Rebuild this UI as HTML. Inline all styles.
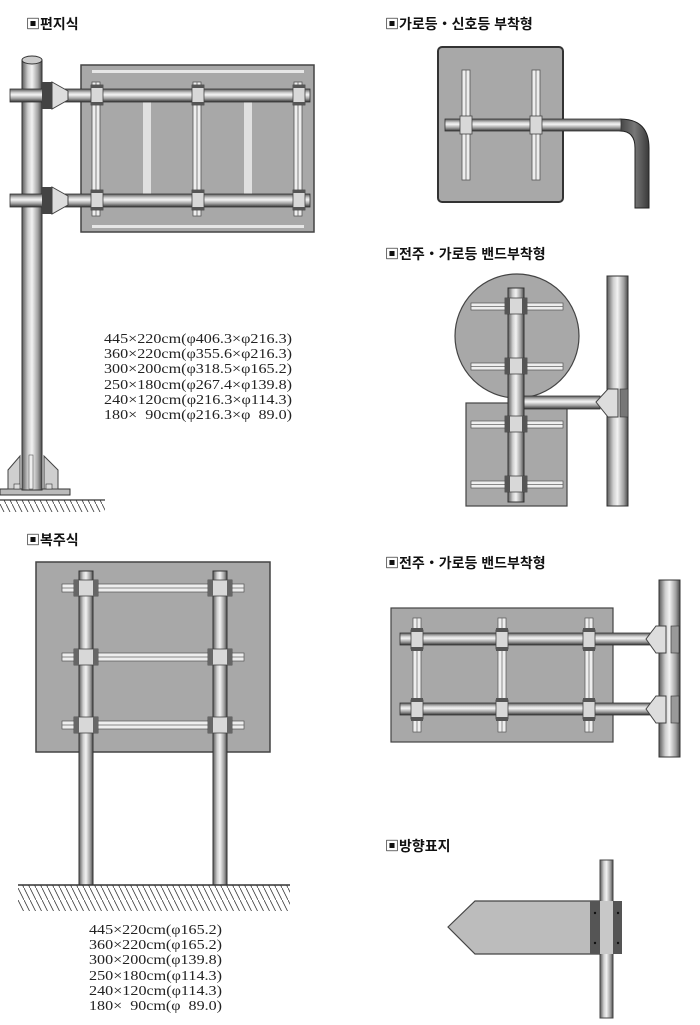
<!DOCTYPE html>
<html><head><meta charset="utf-8">
<style>
html,body{margin:0;padding:0;background:#fff;}
svg{display:block;}
.t{font-family:"Liberation Sans","Noto Sans CJK KR",sans-serif;font-weight:bold;font-size:14px;fill:#111;}
.s{font-family:"Liberation Serif","Noto Serif CJK SC",serif;font-size:13.5px;fill:#222;}
</style></head><body>
<svg width="700" height="1025" viewBox="0 0 700 1025" xmlns="http://www.w3.org/2000/svg">
<defs>
<linearGradient id="pv" x1="0" y1="0" x2="1" y2="0">
<stop offset="0" stop-color="#5a5a5a"/><stop offset="0.3" stop-color="#cfcfcf"/><stop offset="0.5" stop-color="#f2f2f2"/><stop offset="0.8" stop-color="#a0a0a0"/><stop offset="1" stop-color="#4a4a4a"/>
</linearGradient>
<linearGradient id="ph" x1="0" y1="0" x2="0" y2="1">
<stop offset="0" stop-color="#5a5a5a"/><stop offset="0.3" stop-color="#d5d5d5"/><stop offset="0.45" stop-color="#f4f4f4"/><stop offset="0.75" stop-color="#9a9a9a"/><stop offset="1" stop-color="#333"/>
</linearGradient>
<linearGradient id="pd" x1="0" y1="0" x2="1" y2="0">
<stop offset="0" stop-color="#444"/><stop offset="0.5" stop-color="#777"/><stop offset="1" stop-color="#3a3a3a"/>
</linearGradient>
<pattern id="hatch" width="6" height="12" patternUnits="userSpaceOnUse">
<line x1="0" y1="0" x2="6" y2="12" stroke="#333" stroke-width="0.8"/>
</pattern>
</defs>

<!-- Titles -->
<text class="t" x="26" y="29">▣편지식</text>
<text class="t" x="385" y="29">▣가로등・신호등 부착형</text>
<text class="t" x="385" y="259">▣전주・가로등 밴드부착형</text>
<text class="t" x="26" y="545">▣복주식</text>
<text class="t" x="385" y="568">▣전주・가로등 밴드부착형</text>
<text class="t" x="385" y="851">▣방향표지</text>

<!-- ===== 편지식 ===== -->
<rect x="81" y="65" width="233" height="167" fill="#a8a8a8" stroke="#444" stroke-width="1.5"/>
<rect x="92" y="70" width="212" height="3" fill="#e6e6e6"/>
<rect x="92" y="225" width="212" height="3" fill="#e6e6e6"/>
<rect x="143" y="100" width="8" height="95" fill="#e0e0e0"/>
<rect x="244" y="100" width="8" height="95" fill="#e0e0e0"/>
<g fill="#eee" stroke="#555" stroke-width="0.8">
<rect x="92" y="82" width="8" height="134"/><rect x="193" y="82" width="8" height="134"/><rect x="294" y="82" width="8" height="134"/>
</g>
<g stroke="#666" stroke-width="0.8"><line x1="96" y1="82" x2="96" y2="216"/><line x1="197" y1="82" x2="197" y2="216"/><line x1="298" y1="82" x2="298" y2="216"/></g>
<rect x="0" y="500" width="105" height="12" fill="url(#hatch)"/>
<line x1="0" y1="500" x2="105" y2="500" stroke="#333" stroke-width="1.2"/>
<rect x="0" y="489" width="70" height="6" fill="#bbb" stroke="#333"/>
<rect x="22" y="60" width="20" height="430" fill="url(#pv)" stroke="#333" stroke-width="1"/>
<ellipse cx="32" cy="60" rx="10" ry="4" fill="#ccc" stroke="#333"/>
<polygon points="8,470 20,456 20,489 8,489" fill="#cfcfcf" stroke="#444"/>
<polygon points="44,456 58,470 58,489 44,489" fill="#cfcfcf" stroke="#444"/>
<rect x="29" y="455" width="4" height="34" fill="#eee" stroke="#555" stroke-width="0.6"/>
<rect x="14" y="484" width="6" height="5" fill="#ddd" stroke="#333" stroke-width="0.6"/>
<rect x="46" y="484" width="6" height="5" fill="#ddd" stroke="#333" stroke-width="0.6"/>
<g>
<rect x="10" y="89" width="300" height="13" fill="url(#ph)" stroke="#333" stroke-width="0.8"/>
<rect x="10" y="194" width="300" height="13" fill="url(#ph)" stroke="#333" stroke-width="0.8"/>
<rect x="42" y="82" width="10" height="27" fill="#444"/>
<rect x="42" y="187" width="10" height="27" fill="#444"/>
<polygon points="52,82 68,91 68,100 52,109" fill="#ddd" stroke="#444"/>
<polygon points="52,187 68,196 68,205 52,214" fill="#ddd" stroke="#444"/>
</g>
<g fill="#d8d8d8" stroke="#444" stroke-width="0.8">
<rect x="91" y="85" width="12" height="20"/><rect x="192" y="85" width="12" height="20"/><rect x="293" y="85" width="12" height="20"/>
<rect x="91" y="190" width="12" height="20"/><rect x="192" y="190" width="12" height="20"/><rect x="293" y="190" width="12" height="20"/>
</g>
<g fill="#555"><rect x="91" y="85" width="12" height="3"/><rect x="192" y="85" width="12" height="3"/><rect x="293" y="85" width="12" height="3"/>
<rect x="91" y="190" width="12" height="3"/><rect x="192" y="190" width="12" height="3"/><rect x="293" y="190" width="12" height="3"/>
<rect x="91" y="102" width="12" height="3"/><rect x="192" y="102" width="12" height="3"/><rect x="293" y="102" width="12" height="3"/>
<rect x="91" y="207" width="12" height="3"/><rect x="192" y="207" width="12" height="3"/><rect x="293" y="207" width="12" height="3"/></g>

<text class="s" x="104" y="343" textLength="188" lengthAdjust="spacingAndGlyphs">445×220cm(φ406.3×φ216.3)</text>
<text class="s" x="104" y="358" textLength="188" lengthAdjust="spacingAndGlyphs">360×220cm(φ355.6×φ216.3)</text>
<text class="s" x="104" y="373" textLength="188" lengthAdjust="spacingAndGlyphs">300×200cm(φ318.5×φ165.2)</text>
<text class="s" x="104" y="389" textLength="188" lengthAdjust="spacingAndGlyphs">250×180cm(φ267.4×φ139.8)</text>
<text class="s" x="104" y="404" textLength="188" lengthAdjust="spacingAndGlyphs">240×120cm(φ216.3×φ114.3)</text>
<text class="s" x="104" y="419" textLength="188" lengthAdjust="spacingAndGlyphs" xml:space="preserve">180×  90cm(φ216.3×φ  89.0)</text>

<!-- ===== 가로등 신호등 부착형 ===== -->
<rect x="438" y="47" width="125" height="155" rx="4" fill="#a8a8a8" stroke="#333" stroke-width="2"/>
<g fill="#eee" stroke="#555" stroke-width="0.8"><rect x="462" y="70" width="8" height="110"/><rect x="532" y="70" width="8" height="110"/></g>
<g stroke="#666" stroke-width="0.8"><line x1="466" y1="70" x2="466" y2="180"/><line x1="536" y1="70" x2="536" y2="180"/></g>
<path d="M620,119 Q649,119 649,148 L649,208 L635,208 L635,148 Q635,131 620,131 Z" fill="url(#pd)" stroke="#222"/>
<rect x="445" y="119" width="176" height="12" fill="url(#ph)" stroke="#333" stroke-width="0.8"/>
<g fill="#d8d8d8" stroke="#444" stroke-width="0.8"><rect x="460" y="116" width="12" height="18"/><rect x="530" y="116" width="12" height="18"/></g>

<!-- ===== 전주 가로등 밴드부착형 1 ===== -->
<rect x="466" y="403" width="101" height="103" fill="#a8a8a8" stroke="#444" stroke-width="1.2"/>
<circle cx="517" cy="336" r="62" fill="#a8a8a8" stroke="#444" stroke-width="1.2"/>
<g fill="#eee" stroke="#555" stroke-width="0.7">
<rect x="471" y="303" width="92" height="7"/><rect x="471" y="363" width="92" height="7"/><rect x="471" y="421" width="92" height="7"/><rect x="471" y="481" width="92" height="7"/>
</g>
<g stroke="#666" stroke-width="0.7"><line x1="471" y1="306.5" x2="563" y2="306.5"/><line x1="471" y1="366.5" x2="563" y2="366.5"/><line x1="471" y1="424.5" x2="563" y2="424.5"/><line x1="471" y1="484.5" x2="563" y2="484.5"/></g>
<rect x="607" y="276" width="21" height="230" fill="url(#pv)" stroke="#333"/>
<rect x="520" y="396" width="80" height="13" fill="url(#ph)" stroke="#333" stroke-width="0.8"/>
<polygon points="596,402 608,389 618,389 618,417 608,417" fill="#ddd" stroke="#444"/>
<rect x="620" y="389" width="8" height="28" fill="#777" stroke="#333" stroke-width="0.6"/>
<rect x="508" y="288" width="16" height="214" fill="url(#pv)" stroke="#333"/>
<g fill="#d8d8d8" stroke="#444" stroke-width="0.8"><rect x="505" y="298" width="22" height="16"/><rect x="505" y="358" width="22" height="16"/><rect x="505" y="416" width="22" height="16"/><rect x="505" y="476" width="22" height="16"/></g>
<g fill="#555"><rect x="505" y="298" width="5" height="16"/><rect x="522" y="298" width="5" height="16"/><rect x="505" y="358" width="5" height="16"/><rect x="522" y="358" width="5" height="16"/><rect x="505" y="416" width="5" height="16"/><rect x="522" y="416" width="5" height="16"/><rect x="505" y="476" width="5" height="16"/><rect x="522" y="476" width="5" height="16"/></g>

<!-- ===== 복주식 ===== -->
<rect x="36" y="562" width="234" height="190" fill="#a8a8a8" stroke="#444" stroke-width="1.5"/>
<g fill="#eee" stroke="#555" stroke-width="0.7"><rect x="62" y="584" width="182" height="8"/><rect x="62" y="653" width="182" height="8"/><rect x="62" y="721" width="182" height="8"/></g>
<g stroke="#666" stroke-width="0.7"><line x1="62" y1="588" x2="244" y2="588"/><line x1="62" y1="657" x2="244" y2="657"/><line x1="62" y1="725" x2="244" y2="725"/></g>
<rect x="79" y="571" width="14" height="314" fill="url(#pv)" stroke="#333"/>
<rect x="213" y="571" width="14" height="314" fill="url(#pv)" stroke="#333"/>
<g fill="#d8d8d8" stroke="#444" stroke-width="0.8">
<rect x="74" y="580" width="24" height="16"/><rect x="208" y="580" width="24" height="16"/>
<rect x="74" y="649" width="24" height="16"/><rect x="208" y="649" width="24" height="16"/>
<rect x="74" y="717" width="24" height="16"/><rect x="208" y="717" width="24" height="16"/>
</g>
<g fill="#666"><rect x="74" y="580" width="5" height="16"/><rect x="93" y="580" width="5" height="16"/><rect x="208" y="580" width="5" height="16"/><rect x="227" y="580" width="5" height="16"/>
<rect x="74" y="649" width="5" height="16"/><rect x="93" y="649" width="5" height="16"/><rect x="208" y="649" width="5" height="16"/><rect x="227" y="649" width="5" height="16"/>
<rect x="74" y="717" width="5" height="16"/><rect x="93" y="717" width="5" height="16"/><rect x="208" y="717" width="5" height="16"/><rect x="227" y="717" width="5" height="16"/></g>
<rect x="18" y="885" width="272" height="26" fill="url(#hatch)"/>
<line x1="18" y1="885" x2="290" y2="885" stroke="#333" stroke-width="1.5"/>

<text class="s" x="89" y="934" textLength="133" lengthAdjust="spacingAndGlyphs">445×220cm(φ165.2)</text>
<text class="s" x="89" y="949" textLength="133" lengthAdjust="spacingAndGlyphs">360×220cm(φ165.2)</text>
<text class="s" x="89" y="964" textLength="133" lengthAdjust="spacingAndGlyphs">300×200cm(φ139.8)</text>
<text class="s" x="89" y="980" textLength="133" lengthAdjust="spacingAndGlyphs">250×180cm(φ114.3)</text>
<text class="s" x="89" y="995" textLength="133" lengthAdjust="spacingAndGlyphs">240×120cm(φ114.3)</text>
<text class="s" x="89" y="1010" textLength="133" lengthAdjust="spacingAndGlyphs" xml:space="preserve">180×  90cm(φ  89.0)</text>

<!-- ===== 전주 가로등 밴드부착형 2 ===== -->
<rect x="391" y="608" width="222" height="134" fill="#a8a8a8" stroke="#444" stroke-width="1.2"/>
<g fill="#eee" stroke="#555" stroke-width="0.7"><rect x="413" y="618" width="8" height="114"/><rect x="498" y="618" width="8" height="114"/><rect x="585" y="618" width="8" height="114"/></g>
<g stroke="#666" stroke-width="0.7"><line x1="417" y1="618" x2="417" y2="732"/><line x1="502" y1="618" x2="502" y2="732"/><line x1="589" y1="618" x2="589" y2="732"/></g>
<rect x="659" y="580" width="21" height="177" fill="url(#pv)" stroke="#333"/>
<rect x="400" y="633" width="250" height="12" fill="url(#ph)" stroke="#333" stroke-width="0.8"/>
<rect x="400" y="703" width="250" height="12" fill="url(#ph)" stroke="#333" stroke-width="0.8"/>
<polygon points="646,639 656,626 666,626 666,653 656,653" fill="#ddd" stroke="#444"/>
<polygon points="646,709 656,696 666,696 666,723 656,723" fill="#ddd" stroke="#444"/>
<rect x="671" y="626" width="8" height="27" fill="#999" stroke="#333" stroke-width="0.6"/>
<rect x="671" y="696" width="8" height="27" fill="#999" stroke="#333" stroke-width="0.6"/>
<g fill="#d8d8d8" stroke="#444" stroke-width="0.8">
<rect x="411" y="630" width="12" height="19"/><rect x="496" y="630" width="12" height="19"/><rect x="583" y="630" width="12" height="19"/>
<rect x="411" y="700" width="12" height="19"/><rect x="496" y="700" width="12" height="19"/><rect x="583" y="700" width="12" height="19"/>
</g>
<g fill="#555"><rect x="411" y="628" width="12" height="4"/><rect x="496" y="628" width="12" height="4"/><rect x="583" y="628" width="12" height="4"/>
<rect x="411" y="647" width="12" height="4"/><rect x="496" y="647" width="12" height="4"/><rect x="583" y="647" width="12" height="4"/>
<rect x="411" y="698" width="12" height="4"/><rect x="496" y="698" width="12" height="4"/><rect x="583" y="698" width="12" height="4"/>
<rect x="411" y="717" width="12" height="4"/><rect x="496" y="717" width="12" height="4"/><rect x="583" y="717" width="12" height="4"/></g>

<!-- ===== 방향표지 ===== -->
<rect x="600" y="860" width="13" height="158" fill="url(#pv)" stroke="#444"/>
<polygon points="448,927 475,901 600,901 600,954 475,954" fill="#bcbcbc" stroke="#444" stroke-width="1.2"/>
<rect x="590" y="901" width="10" height="53" fill="#555"/>
<rect x="613" y="901" width="9" height="53" fill="#555"/>
<rect x="600" y="901" width="13" height="53" fill="#c8c8c8"/>
<g fill="#111"><circle cx="595" cy="913" r="1.2"/><circle cx="595" cy="943" r="1.2"/><circle cx="618" cy="913" r="1.2"/><circle cx="618" cy="943" r="1.2"/></g>
</svg>
</body></html>
